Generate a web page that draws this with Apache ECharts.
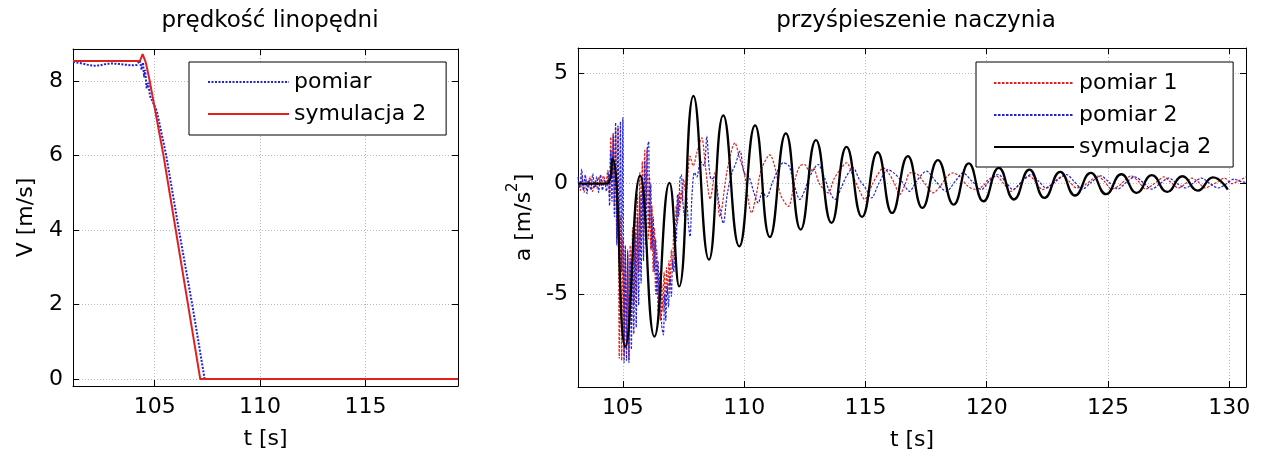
<!DOCTYPE html>
<html><head><meta charset="utf-8">
<script src="https://cdn.jsdelivr.net/npm/echarts@6/dist/echarts.min.js"></script>
<style>html,body{margin:0;padding:0;background:#fff}#c{width:1265px;height:461px}</style>
</head><body><div id="c"></div>
<script>
// ---------- texts ----------
const titleLeft = 'prędkość linopędni';
const titleRight = 'przyśpieszenie naczynia';
const xName = 't [s]';
const yNameLeft = 'V [m/s]';
const yNameRightParts = ['a [m/s', '2', ']'];   // a [m/s²] with a raised 2
const legendLeft = ['pomiar', 'symulacja 2'];
const legendRight = ['pomiar 1', 'pomiar 2', 'symulacja 2'];

// ---------- axis ranges ----------
const leftX = [101.13, 119.38];
const leftY = [-0.19, 8.86];
const rightX = [103.15, 130.69];
const rightY = [-9.2, 6.13];

// ---------- left chart: velocity [t, V] ----------
const velPomiar = [
  [101.13, 8.51], [101.5, 8.48], [101.8, 8.44], [102.1, 8.41], [102.4, 8.42], [102.7, 8.46],
  [103.0, 8.47], [103.3, 8.46], [103.6, 8.44], [103.9, 8.42], [104.15, 8.43], [104.3, 8.55],
  [104.38, 8.3], [104.45, 8.5], [104.5, 8.1], [104.55, 8.3], [104.62, 7.8], [104.7, 7.95],
  [104.78, 7.6], [104.85, 7.55], [105.1, 7.2], [105.55, 6.0], [106.15, 4.0], [106.78, 2.0],
  [107.37, 0.0], [119.38, 0.0]
];
const velSym = [
  [101.13, 8.54], [104.3, 8.54], [104.36, 8.62], [104.43, 8.72], [104.5, 8.68], [104.58, 8.5],
  [104.75, 8.05], [105.42, 6.0], [106.0, 4.0], [106.58, 2.0], [107.16, 0.0], [119.38, 0.0]
];

// ---------- right chart: acceleration [t, a] ----------
const accPomiar1 = [
  [103.15, 0.1], [103.25, -0.3], [103.32, 0.35], [103.4, -0.4], [103.5, 0.2], [103.58, -0.2],
  [103.65, 0.3], [103.75, -0.35], [103.85, 0.15], [103.92, -0.2], [104.0, 0.3], [104.1, -0.1],
  [104.2, 0.35], [104.3, 0.0], [104.38, 0.6],
  [104.40, 0.4], [104.45, -0.6], [104.50, 2.1], [104.55, 0.2], [104.60, 2.3], [104.65, -1.0],
  [104.70, 2.5], [104.75, -2.5], [104.80, 2.6], [104.85, -7.9], [104.90, -1.5], [104.95, -8.0],
  [105.00, -2.5], [105.05, -7.8], [105.10, -3.0], [105.15, -7.5], [105.20, -3.2], [105.25, -8.0],
  [105.30, -2.8], [105.35, -6.5], [105.40, -2.0], [105.45, -5.5], [105.50, -1.2], [105.55, -5.0],
  [105.60, -0.5], [105.65, -4.0], [105.70, 0.5], [105.75, -3.0], [105.80, 1.0], [105.85, -2.5],
  [105.90, 1.5], [105.95, -1.0], [106.00, 1.6], [106.05, -2.5], [106.10, 0.3], [106.15, -3.0],
  [106.20, -1.0], [106.25, -4.0], [106.30, -2.0], [106.35, -5.0], [106.40, -3.0], [106.45, -5.8],
  [106.50, -4.0], [106.55, -6.2], [106.60, -4.5], [106.65, -5.8], [106.70, -4.0], [106.75, -5.5],
  [106.80, -3.8], [106.85, -5.0], [106.90, -3.5], [106.95, -4.5], [107.00, -3.0], [107.05, -3.8],
  [107.10, -2.0], [107.15, -2.8], [107.20, -1.0], [107.25, -1.8], [107.30, -0.5], [107.35, -1.2],
  [107.40, -0.3], [107.45, -0.8], [107.50, 0.2],
  [107.6, -0.5], [107.77, 1.24], [107.9, 0.8], [108.05, 1.4], [108.25, 2.07], [108.4, 0.8],
  [108.6, -0.7], [108.8, 0.5], [109.0, -1.5], [109.3, 0.6], [109.62, 1.84], [109.8, 1.2],
  [110.0, 0.5], [110.31, -1.33], [110.5, -0.5], [110.7, 0.6], [111.06, 1.3], [111.3, 0.6],
  [111.5, -0.5], [111.82, -1.03], [112.1, 0.2], [112.3, 0.8], [112.5, 0.86], [112.7, 0.5],
  [112.85, 0.7], [113.1, 0.0], [113.46, -0.42], [113.7, 0.2], [114.0, 0.7], [114.22, 0.94],
  [114.5, 0.3], [114.75, -0.3], [114.97, -0.72], [115.3, 0.0], [115.5, 0.4], [115.73, 0.71],
  [116.0, 0.4], [116.2, 0.0], [116.41, -0.5], [116.65, 0.0], [116.83, 0.48], [117.1, 0.45],
  [117.45, 0.0], [117.79, -0.42], [118.1, -0.1], [118.35, 0.3], [118.61, 0.48], [118.9, 0.3],
  [119.2, -0.1], [119.55, -0.27], [119.85, -0.1], [120.1, 0.2], [120.4, 0.33], [120.7, 0.0],
  [121.0, -0.35], [121.3, -0.1], [121.5, 0.15], [121.77, 0.33], [122.0, 0.1], [122.3, -0.27],
  [122.6, -0.1], [122.85, 0.15], [123.14, 0.33], [123.4, 0.1], [123.7, -0.2], [124.0, -0.1],
  [124.3, 0.15], [124.55, 0.35], [124.85, 0.1], [125.15, -0.25], [125.45, -0.1], [125.7, 0.15],
  [125.95, 0.35], [126.25, 0.1], [126.55, -0.25], [126.85, -0.05], [127.1, 0.15], [127.3, 0.3],
  [127.6, 0.05], [127.9, -0.2], [128.2, 0.0], [128.45, 0.25], [128.7, 0.1], [129.0, -0.2],
  [129.3, -0.05], [129.55, 0.1], [129.8, 0.25], [130.1, 0.0], [130.35, 0.1], [130.69, 0.3]
];
const accPomiar2 = [
  [103.15, 0.3], [103.22, -0.2], [103.3, 0.65], [103.37, -0.3], [103.45, 0.4], [103.52, -0.45],
  [103.6, 0.2], [103.68, -0.3], [103.76, 0.45], [103.84, -0.2], [103.92, 0.3], [104.0, -0.4],
  [104.08, 0.4], [104.16, -0.3], [104.24, 0.2], [104.32, -0.35],
  [104.40, 0.5], [104.45, -1.0], [104.50, 1.5], [104.55, -0.8], [104.60, 2.2], [104.65, -1.5],
  [104.70, 2.75], [104.75, -2.8], [104.80, 2.6], [104.85, -3.5], [104.90, 2.8], [104.95, -4.0],
  [105.00, 2.98], [105.05, -8.1], [105.10, -2.8], [105.15, -8.0], [105.20, -3.0], [105.25, -8.1],
  [105.30, -3.5], [105.35, -7.5], [105.40, -3.0], [105.45, -6.8], [105.50, -2.2], [105.55, -6.5],
  [105.60, -1.5], [105.65, -5.5], [105.70, -0.5], [105.75, -4.5], [105.80, 0.3], [105.85, -3.5],
  [105.90, 1.0], [105.95, -2.8], [106.00, 1.5], [106.06, 1.9], [106.10, -2.0], [106.15, 0.0],
  [106.20, -3.0], [106.25, -1.5], [106.30, -4.0], [106.35, -2.5], [106.40, -5.0], [106.45, -3.5],
  [106.50, -5.6], [106.55, -4.5], [106.60, -6.4], [106.67, -6.84], [106.72, -5.0], [106.77, -6.2],
  [106.82, -4.6], [106.88, -5.6], [106.94, -4.2], [107.00, -5.1], [107.05, -3.5], [107.10, -4.0],
  [107.15, -2.0], [107.20, -2.6], [107.25, -0.5], [107.30, -1.5], [107.35, 0.2], [107.41, 0.4],
  [107.47, -0.8], [107.55, -1.5], [107.62, -0.5], [107.70, -1.8], [107.77, -2.4], [107.85, -0.5],
  [107.95, 0.5], [108.05, 0.3], [108.2, 1.0], [108.35, 0.8], [108.46, 2.14], [108.55, 0.8],
  [108.65, 0.2], [108.8, 0.3], [108.95, -0.8], [109.14, -1.8], [109.3, -0.5], [109.5, 0.5],
  [109.65, 0.9], [109.83, 1.47], [110.0, 0.48], [110.2, 0.3], [110.4, -0.4], [110.58, -0.88],
  [110.75, -0.4], [110.93, -0.6], [111.15, 0.0], [111.35, 0.5], [111.61, 0.94], [111.85, 0.8],
  [112.05, 0.0], [112.3, -0.72], [112.5, -0.3], [112.7, 0.3], [113.05, 0.86], [113.3, 0.3],
  [113.5, -0.3], [113.74, -0.72], [114.0, -0.2], [114.2, 0.3], [114.49, 0.71], [114.75, 0.18],
  [115.0, -0.2], [115.25, -0.65], [115.55, 0.0], [115.93, 0.63], [116.2, 0.45], [116.5, 0.1],
  [116.82, -0.35], [117.1, 0.1], [117.52, 0.56], [117.9, 0.1], [118.34, -0.35], [118.7, 0.1],
  [119.02, 0.48], [119.4, 0.1], [119.78, -0.27], [120.1, 0.1], [120.47, 0.41], [120.8, 0.05],
  [121.08, -0.27], [121.45, 0.1], [121.84, 0.41], [122.15, 0.1], [122.45, -0.2], [122.85, 0.1],
  [123.28, 0.41], [123.6, 0.1], [123.95, -0.25], [124.3, 0.05], [124.7, 0.35], [125.05, 0.05],
  [125.4, -0.25], [125.75, 0.05], [126.1, 0.3], [126.45, 0.05], [126.8, -0.25], [127.15, 0.0],
  [127.5, 0.25], [127.85, 0.0], [128.2, -0.2], [128.55, 0.05], [128.85, 0.25], [129.2, 0.0],
  [129.55, -0.2], [129.9, 0.0], [130.2, 0.2], [130.45, 0.1], [130.69, 0.05]
];
const accSym = [
  [103.15, 0], [104.34, 0], [104.57, 1.13], [105.1, -7.37], [105.71, 0.36], [106.30, -6.92],
  [106.92, 0.03], [107.32, -4.65], [107.91, 3.96], [108.55, -3.44], [109.14, 3.08], [109.80, -2.84],
  [110.45, 2.63], [111.06, -2.42], [111.72, 2.27], [112.33, -2.08], [112.96, 1.96], [113.60, -1.78],
  [114.22, 1.66], [114.86, -1.51], [115.50, 1.42], [116.10, -1.33], [116.75, 1.24], [117.35, -1.10],
  [117.99, 1.06], [118.64, -0.95], [119.26, 0.91], [119.87, -0.80], [120.5, 0.71], [121.12, -0.72],
  [121.76, 0.63], [122.38, -0.65], [123.03, 0.53], [123.64, -0.54], [124.29, 0.48], [124.92, -0.48],
  [125.55, 0.42], [126.18, -0.42], [126.81, 0.38], [127.44, -0.38], [128.07, 0.33], [128.70, -0.32],
  [129.33, 0.28], [129.94, -0.27]
];

// ---------- styling ----------
const FONT = '"DejaVu Sans", "Liberation Sans", sans-serif';
const TXT = '#000';
const RED = '#e0201f';
const BLUE = '#2222d4';
const frameLine = { show: true, onZero: false, lineStyle: { color: '#000', width: 1 } };
const grid = { show: true, lineStyle: { type: [1, 2], color: '#b8b8b8', width: 1 } };
const tick = { show: true, inside: true, length: 6, lineStyle: { color: '#000' } };
const lab = { fontSize: 22, color: TXT, fontFamily: FONT, showMinLabel: false, showMaxLabel: false };
const nameStyle = { fontSize: 22, color: TXT, fontFamily: FONT };

function mainX(gi, ext, split) {
  return { gridIndex: gi, type: 'value', min: ext[0], max: ext[1], splitNumber: split, position: 'bottom',
    axisLine: frameLine, axisTick: tick, axisLabel: Object.assign({ margin: 10 }, lab), splitLine: grid,
    name: xName, nameLocation: 'middle', nameGap: 42, nameTextStyle: nameStyle };
}
function sideX(gi, ext, split) {
  return { gridIndex: gi, type: 'value', min: ext[0], max: ext[1], splitNumber: split, position: 'top',
    axisLine: frameLine, axisTick: tick, axisLabel: { show: false }, splitLine: { show: false } };
}
function mainY(gi, ext, split, name, gap, nts) {
  return { gridIndex: gi, type: 'value', min: ext[0], max: ext[1], splitNumber: split, position: 'left',
    axisLine: frameLine, axisTick: tick, axisLabel: Object.assign({ margin: 10 }, lab), splitLine: grid,
    name: name, nameLocation: 'middle', nameGap: gap, nameTextStyle: nts };
}
function sideY(gi, ext, split) {
  return { gridIndex: gi, type: 'value', min: ext[0], max: ext[1], splitNumber: split, position: 'right',
    axisLine: frameLine, axisTick: tick, axisLabel: { show: false }, splitLine: { show: false } };
}

const rightNameStyle = Object.assign({}, nameStyle, {
  rich: {
    n: { fontSize: 22, color: TXT, fontFamily: FONT, lineHeight: 30, verticalAlign: 'bottom' },
    s: { fontSize: 15, color: TXT, fontFamily: FONT, lineHeight: 15, verticalAlign: 'top' }
  }
});
const rightName = '{n|' + yNameRightParts[0] + '}{s|' + yNameRightParts[1] + '}{n|' + yNameRightParts[2] + '}';

const legendBase = {
  orient: 'vertical', backgroundColor: '#fff', borderColor: '#000', borderWidth: 1,
  itemGap: 6, itemHeight: 14, selectedMode: false,
  itemStyle: { opacity: 0 },
  textStyle: { fontSize: 22, color: TXT, fontFamily: FONT, lineHeight: 26 }
};
const legendNames = { L_pomiar: legendLeft[0], L_sym: legendLeft[1], R_p1: legendRight[0], R_p2: legendRight[1], R_sym: legendRight[2] };

const option = {
  animation: false,
  backgroundColor: '#fff',
  title: [
    { text: titleLeft, left: 265, top: 5, textAlign: 'center',
      textStyle: { fontSize: 23, fontWeight: 'normal', color: TXT, fontFamily: FONT } },
    { text: titleRight, left: 911, top: 5, textAlign: 'center',
      textStyle: { fontSize: 23, fontWeight: 'normal', color: TXT, fontFamily: FONT } }
  ],
  grid: [
    { left: 73, top: 49, width: 385, height: 337 },
    { left: 578, top: 48, width: 668, height: 339 }
  ],
  legend: [
    Object.assign({}, legendBase, { data: ['L_pomiar', 'L_sym'], left: 189, top: 62,
      itemWidth: 81, padding: [7, 20, 8, 18], formatter: n => legendNames[n] }),
    Object.assign({}, legendBase, { data: ['R_p1', 'R_p2', 'R_sym'], left: 976, top: 62,
      itemWidth: 80, padding: [8, 22, 7, 17], formatter: n => legendNames[n] })
  ],
  xAxis: [mainX(0, leftX, 4), sideX(0, leftX, 4), mainX(1, rightX, 5), sideX(1, rightX, 5)],
  yAxis: [mainY(0, leftY, 5, yNameLeft, 36, nameStyle), sideY(0, leftY, 5),
          mainY(1, rightY, 3, rightName, 40, rightNameStyle), sideY(1, rightY, 3)],
  series: [
    { name: 'L_pomiar', type: 'line', xAxisIndex: 0, yAxisIndex: 0, data: velPomiar, symbol: 'none',
      lineStyle: { color: BLUE, width: 2, type: [2, 1.5] }, itemStyle: { color: BLUE } },
    { name: 'L_sym', type: 'line', xAxisIndex: 0, yAxisIndex: 0, data: velSym, symbol: 'none',
      lineStyle: { color: RED, width: 2 }, itemStyle: { color: RED } },
    { name: 'R_p1', type: 'line', xAxisIndex: 2, yAxisIndex: 2, data: accPomiar1, symbol: 'none', smooth: 0.3,
      lineStyle: { color: RED, width: 1.2, type: [2.5, 1.5] }, itemStyle: { color: RED } },
    { name: 'R_p2', type: 'line', xAxisIndex: 2, yAxisIndex: 2, data: accPomiar2, symbol: 'none', smooth: 0.3,
      lineStyle: { color: BLUE, width: 1.2, type: [2.5, 1.5] }, itemStyle: { color: BLUE } },
    { name: 'R_sym', type: 'line', xAxisIndex: 2, yAxisIndex: 2, data: accSym, symbol: 'none', smooth: 0.5,
      lineStyle: { color: '#000', width: 2.3 }, itemStyle: { color: '#000' } }
  ]
};
const chart = echarts.init(document.getElementById('c'), null, { renderer: 'canvas' });
chart.setOption(option);
</script></body></html>
